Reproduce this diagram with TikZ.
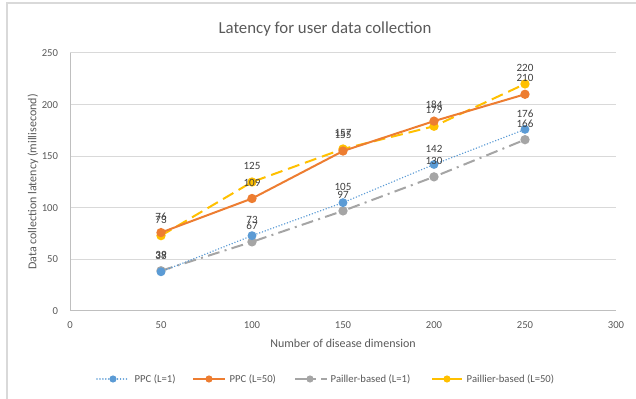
\documentclass[tikz,border=0pt]{standalone}
\usepackage{fontspec}
\setmainfont{Carlito}
\usepackage{tikz}

\definecolor{ppcone}{HTML}{5B9BD5}
\definecolor{ppcfifty}{HTML}{ED7D31}
\definecolor{pailone}{HTML}{A5A5A5}
\definecolor{pailfifty}{HTML}{FFC000}
\definecolor{gridgray}{HTML}{D9D9D9}
\definecolor{axisgray}{HTML}{BFBFBF}
\definecolor{tickgray}{HTML}{595959}
\definecolor{labgray}{HTML}{404040}

\begin{document}
\begin{tikzpicture}[x=0.75pt, y=-0.75pt,
	gridline/.style={draw=gridgray, line width=0.75pt},
	ticklab/.style={text=tickgray, font=\fontsize{8}{9}\selectfont},
	axislab/.style={text=tickgray, font=\fontsize{9}{10}\selectfont},
	leglab/.style={text=tickgray, font=\fontsize{8}{9}\selectfont, anchor=west},
	vallab/.style={text=labgray, font=\fontsize{8.3}{9}\selectfont, yshift=12pt},
	series/.style={draw=#1, line width=1.5pt, mark=*, mark size=2.7pt, mark options={solid, draw=#1, fill=#1}},
	dotline/.style={line width=1.2pt, line cap=round, dash pattern=on 0.01pt off 2.2pt},
	longdash/.style={dash pattern=on 9pt off 4.5pt},
	dashdot/.style={dash pattern=on 9pt off 4pt on 1.5pt off 4pt}]
	\useasboundingbox (0,0) rectangle (636,399);
	% frame of the chart
	\draw[gridgray, line width=1.1pt] (7,399) -- (7,3) -- (636,3);
	\node[text=tickgray, font=\fontsize{12.6}{14}\selectfont] (title) at (325,29) {Latency for user data collection};
	\node[axislab, rotate=90] (ylab) at (33,182) {Data collection latency (millisecond)};
	\node[axislab] (xlab) at (343,343) {Number of disease dimension};
	\begin{scope}[xshift=52.5pt, yshift=-233.25pt, x=1.365pt, y=0.774pt]
		\foreach \v in {50,100,...,250}
			\draw[gridline] (0,\v) -- (300,\v);
		\draw[axisgray, line width=0.75pt] (0,250) -- (0,0) -- (300,0);
		\foreach \v in {0,50,...,250}
			\node[ticklab, anchor=east] at (-4,\v) {\v};
		\foreach \x in {0,50,...,300}
			\node[ticklab] at (\x,-14) {\x};
		% data series
		\draw[series=pailone, dashdot] plot coordinates {(50,39) (100,67) (150,97) (200,130) (250,166)};
		\draw[series=ppcone, dotline] plot coordinates {(50,38) (100,73) (150,105) (200,142) (250,176)};
		\draw[series=pailfifty, longdash] plot coordinates {(50,73) (100,125) (150,157) (200,179) (250,220)};
		\draw[series=ppcfifty] plot coordinates {(50,76) (100,109) (150,155) (200,184) (250,210)};
		% value labels
		\foreach \x/\a/\b/\c/\d in {50/38/39/73/76, 100/73/67/125/109, 150/105/97/157/155, 200/142/130/179/184, 250/176/166/220/210} {
			\node[vallab] at (\x,\a) {\a};
			\node[vallab] at (\x,\b) {\b};
			\node[vallab] at (\x,\c) {\c};
			\node[vallab] at (\x,\d) {\d};
		}
	\end{scope}
	% legend
	\draw[ppcone, dotline] (97,379) -- (128,379);
	\fill[ppcone] (113,379) circle (2.7pt);
	\node[leglab] (lega) at (130,379) {PPC (L=1)};
	\draw[ppcfifty, line width=1.5pt] (193,379) -- (225,379);
	\fill[ppcfifty] (209,379) circle (2.7pt);
	\node[leglab] (legb) at (225,379) {PPC (L=50)};
	\draw[pailone, line width=1.5pt] (295,379) -- (316,379) (321,379) -- (327,379);
	\fill[pailone] (310,379) circle (2.7pt);
	\node[leglab] (legc) at (326,379) {Pailler-based (L=1)};
	\draw[pailfifty, line width=1.5pt] (432,379) -- (462,379);
	\fill[pailfifty] (447,379) circle (2.7pt);
	\node[leglab] (legd) at (462,379) {Paillier-based (L=50)};
\end{tikzpicture}
\end{document}
